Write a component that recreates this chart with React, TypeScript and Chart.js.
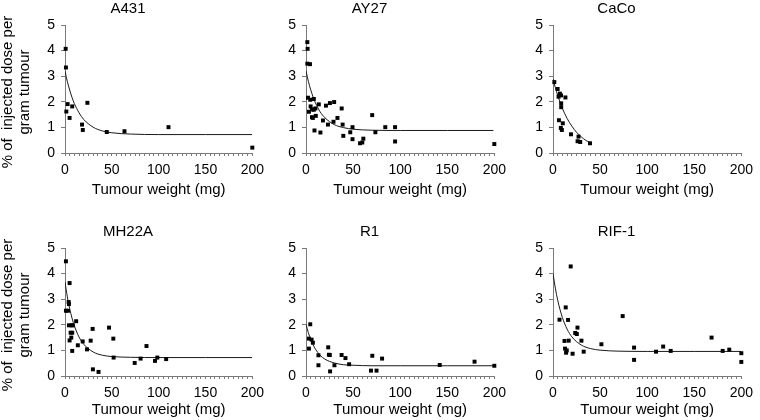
import React, { useEffect, useRef } from 'react';
import { Chart, registerables } from 'chart.js';

Chart.register(...registerables);

const FONT = '"Liberation Sans", Arial, Helvetica, sans-serif';

// ---------- Data ----------
const X_TICKS = [0, 50, 100, 150, 200];
const Y_TICKS = [0, 1, 2, 3, 4, 5];
const X_TITLE = 'Tumour weight (mg)';
const Y_TITLE_LINES = ['% of  injected dose per', 'gram tumour'];

const A431_X = [0.7, 1, 1.4, 2.8, 4.9, 7.7, 18.2, 19, 23.9, 44.6, 63.5, 110.5, 200];
const A431_Y = [4.07, 3.34, 1.62, 1.91, 1.37, 1.82, 1.11, 0.9, 1.96, 0.82, 0.85, 1.01, 0.21];
const A431_FIT_X = [0, 2.5, 5, 7.5, 10, 15, 20, 30, 40, 50, 70, 100, 150, 200];
const A431_FIT_Y = [3.2, 2.79, 2.46, 2.17, 1.93, 1.57, 1.31, 1.01, 0.86, 0.79, 0.74, 0.72, 0.72, 0.72];

const AY27_X = [1.4, 1.7, 1.4, 4.2, 2.1, 4.5, 8.3, 3.1, 4.9, 6.3, 6.3, 7.3, 8.3, 10, 10.4, 9, 13.6, 15.3, 18, 21.2, 23.3, 25.4, 29.2, 29.9, 33.4, 37.9, 38.9, 39.6, 47, 49.4, 49.4, 57.4, 59.8, 60.9, 70.3, 73.7, 84.2, 94.6, 94.6, 200];
const AY27_Y = [4.33, 4.07, 3.49, 3.47, 2.16, 2.08, 2.11, 1.61, 1.82, 1.7, 1.4, 1.37, 1.69, 1.74, 1.45, 0.88, 1.9, 0.8, 1.27, 1.85, 1.11, 1.95, 1.22, 1.99, 1.37, 1.74, 1.11, 0.67, 0.81, 1.01, 0.54, 0.38, 0.41, 0.56, 1.48, 0.81, 1.01, 1.01, 0.45, 0.35];
const AY27_FIT_X = [0, 2.5, 5, 7.5, 10, 15, 20, 30, 40, 50, 70, 100, 150, 199];
const AY27_FIT_Y = [3.21, 2.8, 2.47, 2.19, 1.96, 1.61, 1.38, 1.11, 0.99, 0.93, 0.89, 0.88, 0.88, 0.88];

const CACO_X = [1.4, 4.9, 5.9, 7.3, 8.5, 8.7, 8.7, 13.2, 6.3, 10.4, 8.3, 9.4, 19.1, 27.1, 26.1, 28.9, 39.3];
const CACO_Y = [2.77, 2.5, 2.2, 2.32, 2.25, 1.94, 1.79, 2.17, 1.28, 1.16, 0.98, 0.9, 0.73, 0.64, 0.46, 0.43, 0.38];
const CACO_FIT_X = [0, 2.5, 5, 7.5, 10, 15, 20, 25, 30, 35, 39];
const CACO_FIT_Y = [2.9, 2.55, 2.25, 1.98, 1.74, 1.35, 1.05, 0.81, 0.63, 0.49, 0.41];

const MH22A_X = [1, 4.9, 3.9, 4.2, 1, 3.2, 4.2, 7, 8.4, 6, 7.7, 6.7, 4.9, 11.9, 13.7, 7.7, 18.9, 23.5, 27.4, 29.5, 29.8, 35.8, 47, 51.6, 51.9, 74.4, 80.7, 87, 96.1, 98.6, 108];
const MH22A_Y = [4.48, 3.63, 2.89, 2.81, 2.55, 2.55, 1.98, 1.98, 1.98, 1.69, 1.69, 1.5, 1.39, 2.14, 1.2, 0.98, 1.35, 1.04, 1.38, 1.84, 0.26, 0.16, 1.89, 1.46, 0.72, 0.51, 0.68, 1.17, 0.59, 0.72, 0.66];
const MH22A_FIT_X = [0, 2.5, 5, 7.5, 10, 15, 20, 30, 40, 50, 70, 100, 150, 200];
const MH22A_FIT_Y = [3.67, 3.09, 2.63, 2.26, 1.96, 1.52, 1.24, 0.94, 0.81, 0.76, 0.73, 0.72, 0.72, 0.72];

const R1_X = [4.5, 3.1, 5.9, 7.3, 3.1, 13.2, 13.2, 23.6, 24.3, 25.3, 25.6, 30.2, 37.8, 41.9, 45.8, 69, 70.4, 74.9, 80.8, 142, 179, 200];
const R1_Y = [2.02, 1.46, 1.42, 1.3, 1.07, 0.81, 0.42, 1.12, 0.83, 0.82, 0.18, 0.42, 0.82, 0.7, 0.46, 0.21, 0.79, 0.21, 0.68, 0.43, 0.56, 0.4];
const R1_FIT_X = [0, 2.5, 5, 7.5, 10, 15, 20, 30, 40, 50, 70, 100, 150, 200];
const R1_FIT_Y = [2.02, 1.69, 1.43, 1.22, 1.05, 0.81, 0.66, 0.51, 0.44, 0.42, 0.4, 0.4, 0.4, 0.4];

const RIF1_X = [18.8, 13.5, 6.9, 16, 26, 23.6, 25.3, 12.2, 16.7, 30.2, 12.8, 14.6, 13.9, 20.8, 32.6, 51.4, 74, 86.1, 86.1, 109.4, 117, 125, 168.4, 180.2, 187.2, 200, 200];
const RIF1_Y = [4.28, 2.68, 2.2, 2.19, 1.89, 1.68, 1.64, 1.37, 1.38, 1.38, 1.07, 1.0, 0.91, 0.87, 0.95, 1.24, 2.34, 1.11, 0.63, 0.95, 1.15, 0.98, 1.5, 0.98, 1.03, 0.89, 0.55];
const RIF1_FIT_X = [0, 2.5, 5, 7.5, 10, 15, 20, 30, 40, 50, 70, 100, 150, 200];
const RIF1_FIT_Y = [4.0, 3.43, 2.96, 2.59, 2.28, 1.83, 1.53, 1.21, 1.07, 1.01, 0.97, 0.96, 0.96, 0.96];

// ---------- Layout ----------
type PanelSpec = {
  title: string;
  xs: number[];
  ys: number[];
  fx: number[];
  fy: number[];
  left: number;
  top: number;
  width: number;
  height: number;
  titleTop: number;
  xAxisH: number;
  yTitle: boolean;
};

const AXIS_COLOR = '#7a7a7a';

const yTitlePlugin = {
  id: 'yTitleLines',
  afterDraw(chart: any, _args: any, opts: any) {
    if (!opts || !opts.lines) return;
    const { ctx, chartArea } = chart;
    ctx.save();
    ctx.font = `15px ${FONT}`;
    ctx.fillStyle = '#000';
    ctx.textAlign = 'center';
    ctx.textBaseline = 'middle';
    const cy = (chartArea.top + chartArea.bottom) / 2 + 3;
    opts.lines.forEach((t: string, i: number) => {
      ctx.save();
      ctx.translate(opts.x0 + i * 17, cy);
      ctx.rotate(-Math.PI / 2);
      ctx.fillText(t, 0, 0);
      ctx.restore();
    });
    ctx.restore();
  },
};

function Panel({ spec }: { spec: PanelSpec }) {
  const ref = useRef<HTMLCanvasElement>(null);
  useEffect(() => {
    if (!ref.current) return;
    const chart = new Chart(ref.current, {
      type: 'scatter',
      data: {
        datasets: [
          {
            type: 'line',
            data: spec.fx.map((x, i) => ({ x, y: spec.fy[i] })),
            borderColor: '#1a1a1a',
            borderWidth: 1,
            pointRadius: 0,
            fill: false,
            cubicInterpolationMode: 'monotone',
            order: 2,
          } as any,
          {
            data: spec.xs.map((x, i) => ({ x, y: spec.ys[i] })),
            pointStyle: 'rect',
            pointRadius: 2.8,
            backgroundColor: '#000',
            borderWidth: 0,
            clip: false,
            order: 1,
          } as any,
        ],
      },
      options: {
        responsive: false,
        animation: false,
        devicePixelRatio: 1,
        events: [],
        layout: { padding: { left: 0, right: 14, top: 0, bottom: 0 } },
        plugins: {
          legend: { display: false },
          tooltip: { enabled: false },
          title: {
            display: true,
            text: spec.title,
            color: '#000',
            font: { family: FONT, size: 15, weight: 'normal' },
            padding: { top: spec.titleTop, bottom: 7 },
          },
          yTitleLines: spec.yTitle ? { lines: Y_TITLE_LINES, x0: 7.5 } : {},
        } as any,
        scales: {
          x: {
            type: 'linear',
            min: X_TICKS[0],
            max: X_TICKS[X_TICKS.length - 1],
            afterFit: (s: any) => {
              s.height = spec.xAxisH;
            },
            border: { color: AXIS_COLOR, width: 1 },
            grid: { drawOnChartArea: false, drawTicks: true, tickLength: 3, color: AXIS_COLOR },
            ticks: {
              stepSize: 5,
              maxTicksLimit: 100,
              autoSkip: false,
              maxRotation: 0,
              minRotation: 0,
              padding: 6,
              color: '#000',
              font: { family: FONT, size: 14 },
              callback: (v: any) => (X_TICKS.includes(Number(v)) ? String(v) : ''),
            },
            title: {
              display: true,
              text: X_TITLE,
              color: '#000',
              font: { family: FONT, size: 15 },
              padding: { top: 0, bottom: 1 },
            },
          },
          y: {
            type: 'linear',
            min: Y_TICKS[0],
            max: Y_TICKS[Y_TICKS.length - 1],
            afterFit: (s: any) => {
              s.width = 65;
            },
            border: { color: AXIS_COLOR, width: 1 },
            grid: { drawOnChartArea: false, drawTicks: true, tickLength: 4, color: AXIS_COLOR },
            ticks: {
              stepSize: 1,
              padding: 6,
              color: '#000',
              font: { family: FONT, size: 14 },
            },
            title: { display: false },
          },
        },
      } as any,
      plugins: [yTitlePlugin],
    });
    return () => chart.destroy();
  }, [spec]);
  return (
    <canvas
      ref={ref}
      width={spec.width}
      height={spec.height}
      style={{ position: 'absolute', left: spec.left, top: spec.top, width: spec.width, height: spec.height }}
    />
  );
}

const TOP = { top: 0, height: 200, titleTop: 0, xAxisH: 47 };
const BOTTOM = { top: 210, height: 210, titleTop: 13, xAxisH: 44 };

const PANELS: PanelSpec[] = [
  { title: 'A431', xs: A431_X, ys: A431_Y, fx: A431_FIT_X, fy: A431_FIT_Y, left: 0, width: 270, yTitle: true, ...TOP },
  { title: 'AY27', xs: AY27_X, ys: AY27_Y, fx: AY27_FIT_X, fy: AY27_FIT_Y, left: 241, width: 271, yTitle: false, ...TOP },
  { title: 'CaCo', xs: CACO_X, ys: CACO_Y, fx: CACO_FIT_X, fy: CACO_FIT_Y, left: 488, width: 271, yTitle: false, ...TOP },
  { title: 'MH22A', xs: MH22A_X, ys: MH22A_Y, fx: MH22A_FIT_X, fy: MH22A_FIT_Y, left: 0, width: 270, yTitle: true, ...BOTTOM },
  { title: 'R1', xs: R1_X, ys: R1_Y, fx: R1_FIT_X, fy: R1_FIT_Y, left: 241, width: 271, yTitle: false, ...BOTTOM },
  { title: 'RIF-1', xs: RIF1_X, ys: RIF1_Y, fx: RIF1_FIT_X, fy: RIF1_FIT_Y, left: 488, width: 271, yTitle: false, ...BOTTOM },
];

export default function App() {
  return (
    <div style={{ position: 'fixed', left: 0, top: 0, width: 760, height: 420, background: '#fff', overflow: 'hidden' }}>
      {PANELS.map((p) => (
        <Panel key={p.title} spec={p} />
      ))}
    </div>
  );
}
